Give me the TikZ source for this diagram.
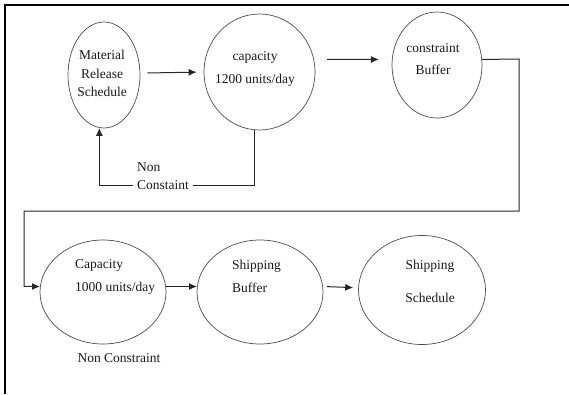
\documentclass[tikz,border=0pt]{standalone}
\usepackage{fontspec}
\setmainfont{Liberation Serif}
\usetikzlibrary{shapes.geometric,arrows.meta}
\begin{document}
\begin{tikzpicture}[x=1pt,y=1pt,
  ell/.style={draw=black!70,line width=0.7pt,ellipse,inner sep=0pt},
  txt/.style={font=\fontsize{13.5}{18.5}\selectfont,text=black!90,inner sep=1pt},
  conn/.style={draw=black!85,line width=1pt},
  arr/.style={conn,-{Latex[length=8pt,width=7pt]}}]
\useasboundingbox (0,0) rectangle (569,-394);
% frame
\draw[line width=2pt] (569,-5) -- (5,-5) -- (5,-394);
% ellipses
\node[ell,minimum width=72pt,minimum height=106pt] (e1) at (104,-75) {};
\node[ell,minimum width=111pt,minimum height=116pt] (e2) at (259.5,-72) {};
\node[ell,minimum width=90pt,minimum height=106pt] (e3) at (437,-65) {};
\node[ell,minimum width=126pt,minimum height=104pt] (e4) at (103,-292) {};
\node[ell,minimum width=126pt,minimum height=104pt] (e5) at (260,-292) {};
\node[ell,minimum width=127pt,minimum height=109pt] (e6) at (422,-290) {};
% texts
\node[txt,align=center] (t1) at (102,-73.5) {Material\\Release\\Schedule};
\node[txt,align=center] (t2) at (255,-68.5) {capacity\\[4.5pt]1200 units/day};
\node[txt,align=center] (t3) at (433,-59) {constraint\\[3.5pt]Buffer};
\node[txt,align=left,anchor=west] (t4) at (74,-276.5) {Capacity\\[4.5pt]1000 units/day};
\node[txt,align=left,anchor=west] (t5) at (231,-276.5) {Shipping\\[4.5pt]Buffer};
\node[txt,align=center] (t6) at (430,-281.5) {Shipping\\[14.5pt]Schedule};
\node[txt] (nc) at (119,-358) {Non Constraint};
\node[txt,anchor=west] (non) at (136,-167) {Non};
\node[txt,anchor=west,inner xsep=4pt] (cons) at (133,-185) {Constaint};
% connectors
\draw[arr,shorten <=7pt,shorten >=7pt] (e1.3) -- (e2.west);
\draw[arr,shorten <=13pt,shorten >=13pt] (e2.13) -- (e3.173);
\draw[conn] (e2.265) |- (cons.east);
\draw[arr] (cons.west) -| (e1.265);
\coordinate (r1) at (519,-59);
\coordinate (r2) at (519,-211);
\coordinate (l1) at (24,-211);
\draw[arr] (e3.7) -- (r1) -- (r2) -- (l1) |- (e4.175);
\draw[arr] (e4.5) -- (e5.175);
\draw[arr,shorten <=4pt,shorten >=5pt] (e5.5) -- (e6.178);
\end{tikzpicture}
\end{document}
